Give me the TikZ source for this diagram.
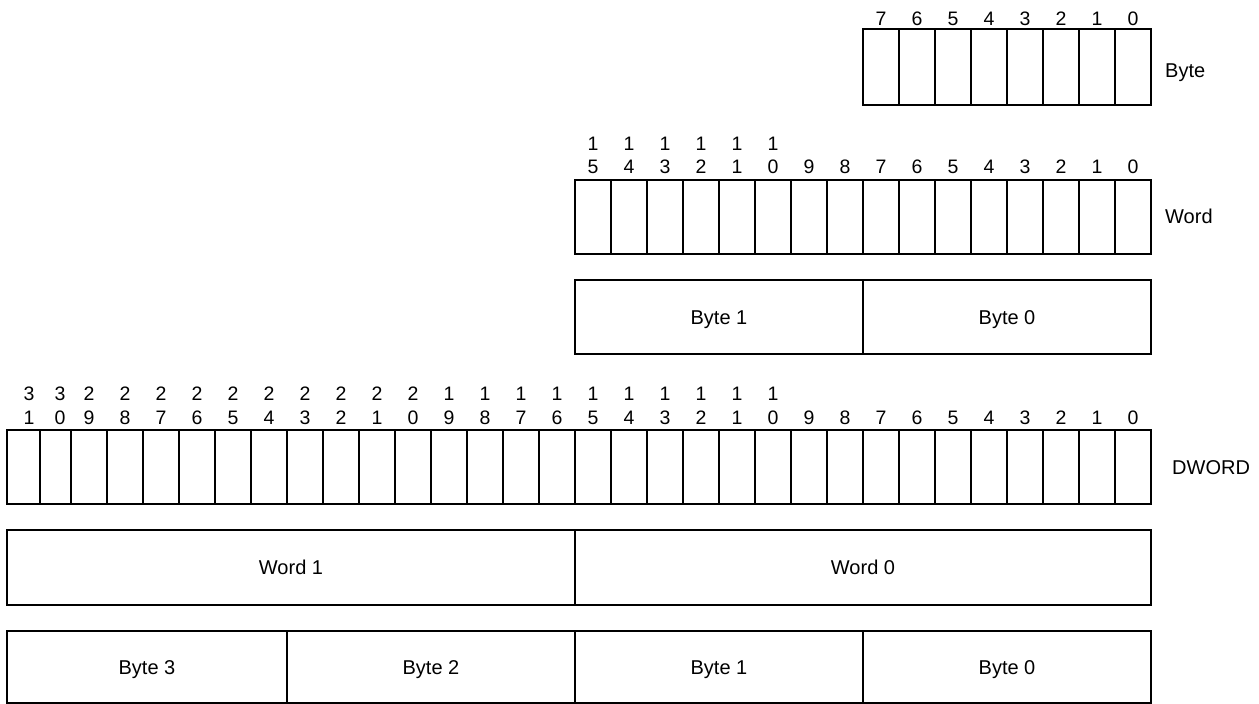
\documentclass[tikz,border=0pt]{standalone}
\usepackage{fontspec}
\setmainfont{Liberation Sans}
\begin{document}
\begin{tikzpicture}[x=1pt,y=-1pt,
  cell/.style={draw, line width=2pt, inner sep=0pt, outer sep=0pt, text height=14pt, text depth=0pt, font=\fontsize{20}{24}\selectfont},
  bitnum/.style={inner sep=0pt, anchor=base, font=\fontsize{19.5}{20}\selectfont},
  rowname/.style={inner sep=0pt, anchor=base west, font=\fontsize{20}{24}\selectfont}]
\useasboundingbox (0,0) rectangle (1259,704);

% Byte row
\foreach \b in {0,...,7} {
  \pgfmathsetmacro\cx{1133-36*\b}
  \node[cell, minimum width=36, minimum height=76] (byte\b) at (\cx,67) {};
  \node[bitnum] (bytel\b) at (\cx,25) {\b};
}
\node[rowname] (bytename) at (1165,77) {Byte};

% Word row
\foreach \b in {0,...,15} {
  \pgfmathsetmacro\cx{1133-36*\b}
  \node[cell, minimum width=36, minimum height=74] (word\b) at (\cx,217) {};
  \ifnum\b<10
    \node[bitnum] (wordl\b) at (\cx,173) {\b};
  \else
    \pgfmathtruncatemacro\d{\b-10}
    \node[bitnum] (wordt\b) at (\cx,150) {1};
    \node[bitnum] (wordl\b) at (\cx,173) {\d};
  \fi
}
\node[rowname] (wordname) at (1165,223) {Word};

% Word split into bytes
\node[cell, minimum width=288, minimum height=74] (wb1) at (719,317) {Byte 1};
\node[cell, minimum width=288, minimum height=74] (wb0) at (1007,317) {Byte 0};

% DWORD row
\node[cell, minimum width=33, minimum height=74] (dw31) at (23.5,467) {};
\node[cell, minimum width=31, minimum height=74] (dw30) at (55.5,467) {};
\foreach \b in {0,...,29} {
  \pgfmathsetmacro\cx{1133-36*\b}
  \node[cell, minimum width=36, minimum height=74] (dw\b) at (\cx,467) {};
}
\foreach \b/\cx in {0/1133,1/1097,2/1061,3/1025,4/989,5/953,6/917,7/881,8/845,9/809,
  10/773,11/737,12/701,13/665,14/629,15/593,16/557,17/521,18/485,19/449,
  20/413,21/377,22/341,23/305,24/269,25/233,26/197,27/161,28/125,29/89,30/60,31/29} {
  \ifnum\b<10
    \node[bitnum] (dwl\b) at (\cx,424) {\b};
  \else
    \pgfmathtruncatemacro\t{int(\b/10)}
    \pgfmathtruncatemacro\u{\b-10*int(\b/10)}
    \node[bitnum] (dwt\b) at (\cx,400) {\t};
    \node[bitnum] (dwl\b) at (\cx,424) {\u};
  \fi
}
\node[rowname] (dwname) at (1172,474) {DWORD};

% DWORD split into words
\node[cell, minimum width=568, minimum height=75] (dww1) at (291,567.5) {Word 1};
\node[cell, minimum width=576, minimum height=75] (dww0) at (863,567.5) {Word 0};

% DWORD split into bytes
\node[cell, minimum width=280, minimum height=72] (dwb3) at (147,667) {Byte 3};
\node[cell, minimum width=288, minimum height=72] (dwb2) at (431,667) {Byte 2};
\node[cell, minimum width=288, minimum height=72] (dwb1) at (719,667) {Byte 1};
\node[cell, minimum width=288, minimum height=72] (dwb0) at (1007,667) {Byte 0};
\end{tikzpicture}
\end{document}
